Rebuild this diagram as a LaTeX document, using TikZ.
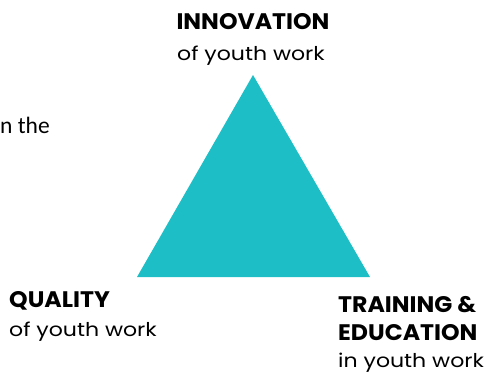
\documentclass[tikz,border=0pt]{standalone}
\usepackage{fontspec}
\setmainfont{Poppins}
\newfontfamily\headfont[FakeStretch=1.05]{Poppins}
\newfontfamily\subfont[FakeStretch=1.16]{Poppins}
\newfontfamily\notefont{Carlito}
\definecolor{triteal}{HTML}{1DBEC6}
\begin{document}
\begin{tikzpicture}[x=1pt,y=-1pt]
            \tikzstyle{every node}+=[inner sep=0pt, anchor=base west]
            \tikzstyle{head}=[font=\headfont\fontsize{22.5}{28}\selectfont\bfseries]
            \tikzstyle{sub}=[font=\subfont\fontsize{19}{28}\selectfont]
            \useasboundingbox (0,0) rectangle (485,373);
            % triangle
            \fill [triteal] (253,75) -- (137,277) -- (370,277) -- cycle;
            % top corner
            \node [head, anchor=base] (innovation) at (253,29) {INNOVATION};
            \node [sub, anchor=base] (innovationsub) at (251,60) {of youth work};
            % cut-off note
            \node [font=\notefont\fontsize{23.5}{26}\selectfont] (note) at (0,133) {n the};
            % left corner
            \node [head] (quality) at (9,307) {QUALITY};
            \node [sub] (qualitysub) at (9,336) {of youth work};
            % right corner
            \node [head] (training) at (338,312) {TRAINING \&};
            \node [head] (education) at (338,340) {EDUCATION};
            \node [sub] (trainingsub) at (338,367) {in youth work};
        \end{tikzpicture}
\end{document}
